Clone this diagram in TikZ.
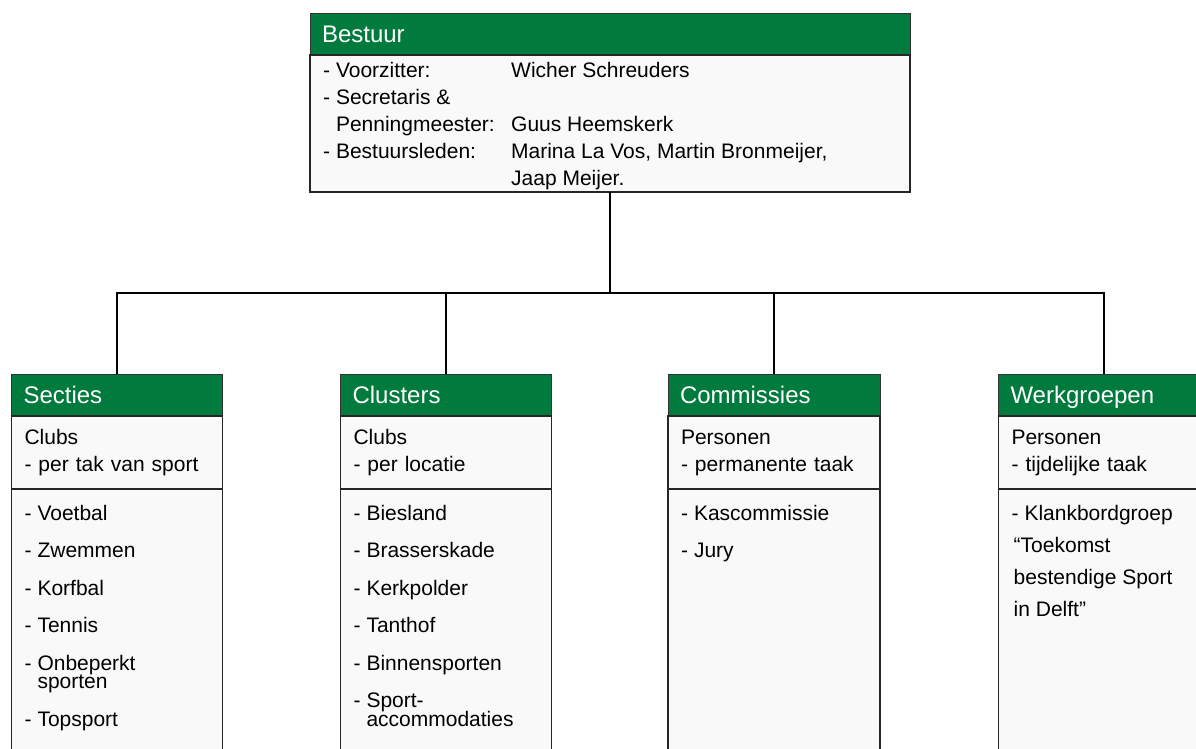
\documentclass[tikz,border=0pt]{standalone}
\usepackage{fontspec}
\setmainfont{Liberation Sans}
\usetikzlibrary{calc}
\definecolor{kopgroen}{RGB}{0,122,61}
\definecolor{vakgrijs}{RGB}{249,249,249}
\newcommand{\insp}{\hphantom{- }}
\tikzset{
  kop/.style={draw=black!80, line width=1pt, fill=kopgroen, text=white, font=\fontsize{24}{28}\selectfont,
    minimum height=42pt, text height=17.2pt, text depth=0pt, inner xsep=12pt, inner ysep=0pt, align=left, outer sep=0pt},
  vak/.style={draw=black!85, line width=1.3pt, fill=vakgrijs, font=\fontsize{21}{27}\selectfont,
    inner xsep=13pt, inner ysep=0pt, align=left, outer sep=0pt},
  lijst/.style={font=\fontsize{21}{22.9}\selectfont, inner sep=0pt, anchor=base west},
  leden/.style={font=\fontsize{21}{27}\selectfont, inner sep=0pt, anchor=base west},
  lijn/.style={line width=1.6pt}
}

\begin{document}
\begin{tikzpicture}[x=1pt,y=-1pt]
\path[fill=white, use as bounding box] (0,0) rectangle (1196,748);
\clip (0,0) rectangle (1196,748);
% bestuur
\node[kop, text width=576pt, anchor=north] (bestuur) at (610,13) {Bestuur};
\node[vak, text width=574pt, minimum height=137pt, anchor=north] (bestuur-vak) at (bestuur.south) {};
\node[leden] (bestuur-leden) at ([xshift=13pt,yshift=-22pt]bestuur-vak.north west)
  {\begin{tabular}[t]{@{}p{188pt}@{}l@{}}
   - Voorzitter: & Wicher Schreuders\\
   - Secretaris \& & \\
   \insp Penningmeester: & Guus Heemskerk\\
   - Bestuursleden: & Marina La Vos, Martin Bronmeijer,\\
   & Jaap Meijer.
   \end{tabular}};
% secties
\node[kop, text width=187pt, anchor=north] (secties) at (117,374) {Secties};
\node[vak, text width=185pt, minimum height=73pt, anchor=north] (secties-intro) at (secties.south) {Clubs\\- per tak van sport};
\node[vak, text width=185pt, minimum height=290pt, anchor=north] (secties-lijst) at (secties-intro.south) {};
\node[lijst] (secties-items) at ([xshift=13pt,yshift=-31pt]secties-lijst.north west)
  {\begin{tabular}[t]{@{}l@{}}
   - Voetbal\\[14.6pt] - Zwemmen\\[14.6pt] - Korfbal\\[14.6pt] - Tennis\\[14.6pt]
   - Onbeperkt\\[-4.4pt] \insp sporten\\[14.6pt] - Topsport
   \end{tabular}};
% clusters
\node[kop, text width=187pt, anchor=north] (clusters) at (446,374) {Clusters};
\node[vak, text width=185pt, minimum height=73pt, anchor=north] (clusters-intro) at (clusters.south) {Clubs\\- per locatie};
\node[vak, text width=185pt, minimum height=290pt, anchor=north] (clusters-lijst) at (clusters-intro.south) {};
\node[lijst] (clusters-items) at ([xshift=13pt,yshift=-31pt]clusters-lijst.north west)
  {\begin{tabular}[t]{@{}l@{}}
   - Biesland\\[14.6pt] - Brasserskade\\[14.6pt] - Kerkpolder\\[14.6pt] - Tanthof\\[14.6pt]
   - Binnensporten\\[14.6pt] - Sport-\\[-4.4pt] \insp accommodaties
   \end{tabular}};
% commissies
\node[kop, text width=188pt, anchor=north] (commissies) at (774,374) {Commissies};
\node[vak, text width=186pt, minimum height=73pt, anchor=north] (commissies-intro) at (commissies.south) {Personen\\- permanente taak};
\node[vak, text width=186pt, minimum height=290pt, anchor=north] (commissies-lijst) at (commissies-intro.south) {};
\node[lijst] (commissies-items) at ([xshift=13pt,yshift=-31pt]commissies-lijst.north west)
  {\begin{tabular}[t]{@{}l@{}}
   - Kascommissie\\[14.6pt] - Jury
   \end{tabular}};
% werkgroepen
\node[kop, text width=187pt, anchor=north] (werkgroepen) at (1104,374) {Werkgroepen};
\node[vak, text width=185pt, minimum height=73pt, anchor=north] (werkgroepen-intro) at (werkgroepen.south) {Personen\\- tijdelijke taak};
\node[vak, text width=185pt, minimum height=290pt, anchor=north] (werkgroepen-lijst) at (werkgroepen-intro.south) {};
\node[lijst] (werkgroepen-items) at ([xshift=13pt,yshift=-31pt]werkgroepen-lijst.north west)
  {\begin{tabular}[t]{@{}l@{}}
   - Klankbordgroep\\[9.1pt] \hspace*{2pt}``Toekomst\\[9.1pt] \hspace*{2pt}bestendige Sport\\[9.1pt] \hspace*{2pt}in Delft''
   \end{tabular}};
% verbindingen
\foreach \tak in {secties,clusters,commissies,werkgroepen}
  \draw[lijn] (bestuur-vak.south) -- ++(0,101) -| (\tak.north);
\end{tikzpicture}
\end{document}
